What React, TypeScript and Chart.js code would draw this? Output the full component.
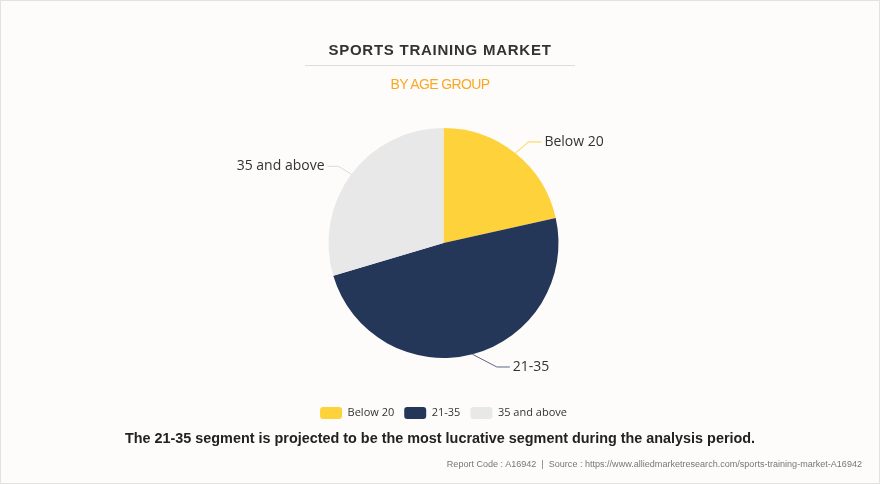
import React, { useEffect, useRef } from "react";
import { Chart, registerables } from "chart.js";

Chart.register(...registerables);

const categories: string[] = ["Below 20", "21-35", "35 and above"];
const shares: number[] = [21.5, 48.9, 29.6];
const sliceColors: string[] = ["#FED23B", "#253759", "#E8E8E8"];
const leaderColors: string[] = ["#FED23B", "#5B6782", "#DADADA"];

const titleText = "SPORTS TRAINING MARKET";
const subtitleText = "BY AGE GROUP";
const noteText =
  "The 21-35 segment is projected to be the most lucrative segment during the analysis period.";
const footerText =
  "Report Code : A16942  |  Source : https://www.alliedmarketresearch.com/sports-training-market-A16942";

const leaderLabels = {
  id: "leaderLabels",
  afterDatasetsDraw(chart: any, _args: any, opts: any) {
    const ctx = chart.ctx as CanvasRenderingContext2D;
    const meta = chart.getDatasetMeta(0);
    meta.data.forEach((arc: any, i: number) => {
      const p = arc.getProps(["x", "y", "startAngle", "endAngle", "outerRadius"], true);
      const mid = (p.startAngle + p.endAngle) / 2;
      const ex = p.x + Math.cos(mid) * p.outerRadius;
      const ey = p.y + Math.sin(mid) * p.outerRadius;
      const [ox, oy] = opts.bends[i];
      const bx = ex + ox;
      const by = ey + oy;
      const dir = Math.cos(mid) >= 0 ? 1 : -1;
      const tx = bx + dir * opts.len2[i];
      ctx.save();
      ctx.strokeStyle = opts.lineColors[i];
      ctx.lineWidth = 1;
      ctx.beginPath();
      ctx.moveTo(ex, ey);
      ctx.lineTo(bx, by);
      ctx.lineTo(tx, by);
      ctx.stroke();
      ctx.fillStyle = "#333333";
      ctx.font = "14px 'Open Sans', 'Noto Sans', sans-serif";
      ctx.textBaseline = "middle";
      ctx.textAlign = dir > 0 ? "left" : "right";
      ctx.fillText(chart.data.labels[i], tx + dir * 3, by);
      ctx.restore();
    });
  },
};

export default function App() {
  const canvasRef = useRef<HTMLCanvasElement | null>(null);

  useEffect(() => {
    if (!canvasRef.current) return;
    const chart = new Chart(canvasRef.current, {
      type: "pie",
      data: {
        labels: categories,
        datasets: [
          {
            data: shares,
            backgroundColor: sliceColors,
            borderWidth: 0,
          },
        ],
      },
      options: {
        responsive: false,
        animation: false,
        radius: 115,
        layout: { padding: { left: 7, right: 0, top: 89, bottom: 55 } },
        plugins: {
          tooltip: { enabled: false },
          legend: {
            display: true,
            position: "bottom",
            labels: {
              boxWidth: 22,
              boxHeight: 12,
              useBorderRadius: true,
              borderRadius: 3,
              padding: 10,
              color: "#333333",
              font: { size: 11, family: "'Open Sans', 'Noto Sans', sans-serif" },
            },
          },
          leaderLabels: {
            bends: [
              [13, -11.3],
              [24.4, 12.7],
              [-12.8, -7.9],
            ],
            len2: [13, 13, 11],
            lineColors: leaderColors,
          },
        } as any,
      },
      plugins: [leaderLabels],
    });
    return () => chart.destroy();
  }, []);

  return (
    <div
      style={{
        position: "fixed",
        left: 0,
        top: 0,
        width: 880,
        height: 484,
        boxSizing: "border-box",
        border: "1px solid #E2E2E2",
        background: "#FDFCFB",
        fontFamily: "'Liberation Sans', Arial, sans-serif",
        overflow: "hidden",
      }}
    >
      <canvas
        ref={canvasRef}
        width={880}
        height={484}
        style={{ position: "absolute", left: -1, top: -1, width: 880, height: 484 }}
      />
      <div
        style={{
          position: "absolute",
          left: -1,
          width: 880,
          top: 39,
          lineHeight: "20px",
          textAlign: "center",
          fontSize: 15,
          fontWeight: "bold",
          letterSpacing: "0.75px",
          color: "#333333",
        }}
      >
        {titleText}
      </div>
      <div
        style={{
          position: "absolute",
          left: 304,
          width: 270,
          top: 64,
          height: 1,
          background: "#DCDCDC",
        }}
      />
      <div
        style={{
          position: "absolute",
          left: -1,
          width: 880,
          top: 73,
          lineHeight: "20px",
          textAlign: "center",
          fontSize: 14,
          letterSpacing: "-0.6px",
          color: "#F9A825",
        }}
      >
        {subtitleText}
      </div>
      <div
        style={{
          position: "absolute",
          left: -1,
          width: 880,
          top: 427,
          lineHeight: "20px",
          textAlign: "center",
          fontSize: 14.4,
          fontWeight: "bold",
          color: "#222222",
        }}
      >
        {noteText}
      </div>
      <div
        style={{
          position: "absolute",
          right: 17,
          top: 455,
          lineHeight: "16px",
          fontSize: 9.05,
          color: "#777777",
          whiteSpace: "pre",
        }}
      >
        {footerText}
      </div>
    </div>
  );
}
